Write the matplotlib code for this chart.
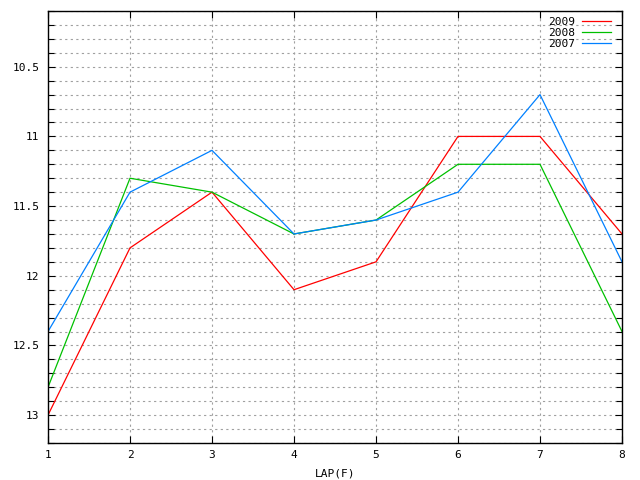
import matplotlib
matplotlib.use("Agg")
import matplotlib.pyplot as plt
from matplotlib.ticker import MultipleLocator, FixedLocator

laps = [1, 2, 3, 4, 5, 6, 7, 8]
series_names = ["2009", "2008", "2007"]
y2009 = [13.0, 11.8, 11.4, 12.1, 11.9, 11.0, 11.0, 11.7]
y2008 = [12.8, 11.3, 11.4, 11.7, 11.6, 11.2, 11.2, 12.4]
y2007 = [12.4, 11.4, 11.1, 11.7, 11.6, 11.4, 10.7, 11.9]
colors = ["#ff0000", "#00c000", "#0080ff"]
yticks = [10.5, 11, 11.5, 12, 12.5, 13]
ytick_labels = ["10.5", "11", "11.5", "12", "12.5", "13"]

plt.rcParams['font.family'] = ['DejaVu Sans Mono', 'DejaVu Sans']
fig = plt.figure(figsize=(6.4, 4.8), dpi=100)
ax = fig.add_axes([48/640, 37/480, (622-48)/640, (443-11)/480])

for name, ys, c in zip(series_names, [y2009, y2008, y2007], colors):
    ax.plot(laps, ys, color=c, linewidth=0.9, label=name)

ax.set_xlim(1, 8)
ax.set_ylim(13.2, 10.1)
ax.xaxis.set_major_locator(FixedLocator(laps))
ax.set_xticklabels([str(v) for v in laps])
ax.yaxis.set_major_locator(FixedLocator(yticks))
ax.set_yticklabels(ytick_labels)
ax.yaxis.set_minor_locator(MultipleLocator(0.1))

ax.tick_params(axis='both', which='both', direction='in', top=True, right=True,
               labelsize=8, width=0.8)
ax.tick_params(axis='both', which='major', length=5)
ax.tick_params(axis='x', which='major', pad=5)
ax.tick_params(axis='y', which='major', pad=6)
ax.tick_params(axis='y', which='minor', length=4)

ax.grid(True, which='both', axis='y', color='#a0a0a0', linestyle=(0, (2, 3)), linewidth=0.8)
ax.grid(True, which='major', axis='x', color='#a0a0a0', linestyle=(0, (2, 3)), linewidth=0.8)
for s in ax.spines.values():
    s.set_linewidth(1.0)

ax.set_xlabel("LAP(F)", fontsize=8, labelpad=6)

leg = ax.legend(loc='upper right', bbox_to_anchor=(1, 1 + 5/432), frameon=False,
                markerfirst=False, fontsize=8,
                handlelength=2.6, handletextpad=0.6, labelspacing=0.1,
                borderaxespad=0.6)

fig.savefig("out.png", dpi=100)
